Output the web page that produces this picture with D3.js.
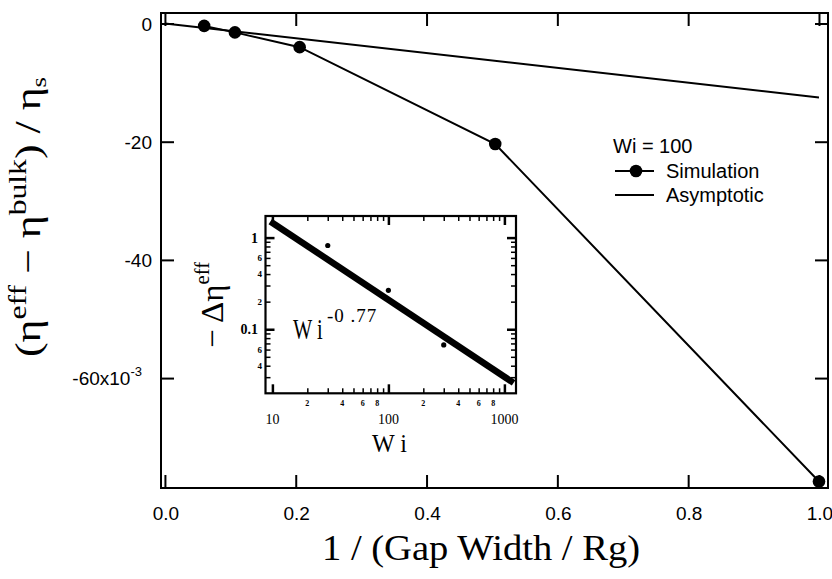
<!DOCTYPE html>
<html><head><meta charset="utf-8">
<script src="https://cdn.jsdelivr.net/npm/d3@7"></script>
<style>body{margin:0;background:#fff}svg{display:block}</style>
</head><body>
<svg id="c" width="832" height="579"></svg>
<script>
// ---- main chart data (y in units of 1e-3) ----
const gapInv = [0.06, 0.107, 0.206, 0.505, 1.0];
const simulation = [-0.4, -1.5, -4.0, -20.4, -77.5];
const asymX = [0, 1.0];
const asymY = [0, -12.5];
const xTicks = [0, 0.2, 0.4, 0.6, 0.8, 1.0];
const xTickLabels = ["0.0", "0.2", "0.4", "0.6", "0.8", "1.0"];
const yTicks = [0, -20, -40, -60];
const yTickLabels = ["0", "-20", "-40", "-60x10"];
const legendTitle = "Wi = 100";
const seriesNames = ["Simulation", "Asymptotic"];
// ---- inset data ----
const insetWi = [30, 100, 300];
const insetDEta = [0.82, 0.266, 0.0675];
const fitWi = [9.6, 1200];
const fitDEta = [1.5, 0.026];
const insetXMajor = [10, 100, 1000];
const insetXMinorLabels = [[20,"2"],[40,"4"],[60,"6"],[80,"8"],[200,"2"],[400,"4"],[600,"6"],[800,"8"]];
const insetYLabels = [[1,"1"],[0.6,"6"],[0.4,"4"],[0.2,"2"],[0.1,"0.1"],[0.06,"6"],[0.04,"4"]];

const svg = d3.select("#c");
const sans = "'Liberation Sans', Arial, Helvetica, sans-serif";
const serif = "'Liberation Serif', 'Times New Roman', serif";

// main scales
const L = 161, R = 828, T = 13, B = 488;
const x = d3.scaleLinear().domain([-0.006, 1.0138]).range([L, R]);
const y = d3.scaleLinear().domain([1.78, -78.6]).range([T, B]);

const g = svg.append("g");
g.append("rect").attr("x", L).attr("y", T).attr("width", R - L).attr("height", B - T)
  .attr("fill", "none").attr("stroke", "#000").attr("stroke-width", 2);

const tickLen = 13;
function styleAxis(sel){ sel.select(".domain").remove(); sel.selectAll("line").attr("stroke","#000").attr("stroke-width",2); }
g.append("g").attr("transform", `translate(0,${B})`)
  .call(d3.axisTop(x).tickValues(xTicks).tickSize(tickLen).tickFormat(""))
  .call(styleAxis);
g.append("g").attr("transform", `translate(0,${T})`)
  .call(d3.axisBottom(x).tickValues(xTicks).tickSize(tickLen).tickFormat(""))
  .call(styleAxis);
g.append("g").attr("transform", `translate(${L},0)`)
  .call(d3.axisRight(y).tickValues(yTicks).tickSize(tickLen).tickFormat(""))
  .call(styleAxis);
g.append("g").attr("transform", `translate(${R},0)`)
  .call(d3.axisLeft(y).tickValues(yTicks).tickSize(tickLen).tickFormat(""))
  .call(styleAxis);

g.selectAll(".xl").data(xTicks).join("text")
  .attr("x", d => x(d) + 1).attr("y", 520).attr("text-anchor", "middle")
  .attr("font-family", sans).attr("font-size", 19).text((d, i) => xTickLabels[i]);
yTicks.forEach((v, i) => {
  const t = g.append("text").attr("y", y(v) + 7).attr("font-family", sans).attr("font-size", 19)
    .attr("text-anchor", "end");
  if (i === yTicks.length - 1) {
    t.attr("x", 142);
    t.append("tspan").text(yTickLabels[i]);
    t.append("tspan").attr("dy", -9).attr("font-size", 13).text("-3");
  } else {
    t.attr("x", 152).text(yTickLabels[i]);
  }
});

const line = d3.line().x(d => x(d[0])).y(d => y(d[1]));
g.append("path").datum(asymX.map((d, i) => [d, asymY[i]]))
  .attr("d", line).attr("fill", "none").attr("stroke", "#000").attr("stroke-width", 2);
const sim = gapInv.map((d, i) => [d, simulation[i]]);
g.append("path").datum(sim).attr("d", line).attr("fill", "none").attr("stroke", "#000").attr("stroke-width", 2);
g.selectAll(".pt").data(sim).join("circle")
  .attr("cx", d => x(d[0])).attr("cy", d => y(d[1])).attr("r", 6.3).attr("fill", "#000");

// legend
g.append("text").attr("x", 613).attr("y", 153).attr("font-family", sans).attr("font-size", 20).text(legendTitle);
g.append("line").attr("x1", 615).attr("x2", 654).attr("y1", 171).attr("y2", 171).attr("stroke", "#000").attr("stroke-width", 2);
g.append("circle").attr("cx", 636).attr("cy", 171).attr("r", 6.3).attr("fill", "#000");
g.append("text").attr("x", 666).attr("y", 178).attr("font-family", sans).attr("font-size", 20).text(seriesNames[0]);
g.append("line").attr("x1", 615).attr("x2", 654).attr("y1", 195).attr("y2", 195).attr("stroke", "#000").attr("stroke-width", 2);
g.append("text").attr("x", 666).attr("y", 202).attr("font-family", sans).attr("font-size", 20).text(seriesNames[1]);

// axis titles
g.append("text").attr("x", 322).attr("y", 560)
  .attr("font-family", serif).attr("font-size", 36)
  .attr("textLength", 318).attr("lengthAdjust", "spacingAndGlyphs").text("1 / (Gap Width / Rg)");
const yt = g.append("text").attr("transform", "translate(40,357) rotate(-90)")
  .attr("font-family", serif).attr("font-size", 36)
  .attr("textLength", 280).attr("lengthAdjust", "spacingAndGlyphs");
yt.append("tspan").text("(η");
yt.append("tspan").attr("dy", -14).attr("font-size", 26).text("eff");
yt.append("tspan").attr("dy", 14).text(" − η");
yt.append("tspan").attr("dy", -14).attr("font-size", 26).text("bulk");
yt.append("tspan").attr("dy", 14).text(") / η");
yt.append("tspan").attr("dy", 6).attr("font-size", 22).text("s");

// ---- inset ----
const iL = 265.5, iR = 516, iT = 216, iB = 393.3;
const ix = d3.scaleLog().domain([8.72, 1259]).range([iL, iR]);
const iy = d3.scaleLog().domain([0.02, 1.72]).range([iB, iT]);
const ins = svg.append("g");
ins.append("rect").attr("x", iL).attr("y", iT).attr("width", iR - iL).attr("height", iB - iT)
  .attr("fill", "#fff").attr("stroke", "#000").attr("stroke-width", 2.2);
const xMinor = [], yMinor = [];
[10, 100, 1000].forEach(dec => { for (let k = 1; k <= 9; k++) { const v = dec * k; if (v > 8.72 && v < 1259) xMinor.push(v); } });
[0.01, 0.1, 1].forEach(dec => { for (let k = 1; k <= 9; k++) { const v = dec * k; if (v > 0.02 && v < 1.72) yMinor.push(v); } });
function styleI(w){ return sel => { sel.select(".domain").remove(); sel.selectAll("line").attr("stroke","#000").attr("stroke-width", w); }; }
const isMaj = v => Math.abs(Math.log10(v) - Math.round(Math.log10(v))) < 1e-9;
ins.append("g").attr("transform", `translate(0,${iB})`).call(d3.axisTop(ix).tickValues(xMinor.filter(v=>!isMaj(v))).tickSize(5).tickFormat("")).call(styleI(1.5));
ins.append("g").attr("transform", `translate(0,${iB})`).call(d3.axisTop(ix).tickValues(insetXMajor.filter(v=>v<1259)).tickSize(9).tickFormat("")).call(styleI(2.5));
ins.append("g").attr("transform", `translate(0,${iT})`).call(d3.axisBottom(ix).tickValues(xMinor.filter(v=>!isMaj(v))).tickSize(5).tickFormat("")).call(styleI(1.5));
ins.append("g").attr("transform", `translate(0,${iT})`).call(d3.axisBottom(ix).tickValues(insetXMajor).tickSize(9).tickFormat("")).call(styleI(2.5));
ins.append("g").attr("transform", `translate(${iL},0)`).call(d3.axisRight(iy).tickValues(yMinor.filter(v=>!isMaj(v))).tickSize(5).tickFormat("")).call(styleI(1.5));
ins.append("g").attr("transform", `translate(${iL},0)`).call(d3.axisRight(iy).tickValues([0.1, 1]).tickSize(9).tickFormat("")).call(styleI(2.5));
ins.append("g").attr("transform", `translate(${iR},0)`).call(d3.axisLeft(iy).tickValues(yMinor.filter(v=>!isMaj(v))).tickSize(5).tickFormat("")).call(styleI(1.5));
ins.append("g").attr("transform", `translate(${iR},0)`).call(d3.axisLeft(iy).tickValues([0.1, 1]).tickSize(9).tickFormat("")).call(styleI(2.5));

insetXMajor.forEach(v => ins.append("text").attr("x", ix(v)).attr("y", 424).attr("text-anchor", "middle")
  .attr("font-family", serif).attr("font-size", 14).text(String(v)));
insetXMinorLabels.forEach(([v, s]) => ins.append("text").attr("x", ix(v)).attr("y", 406).attr("text-anchor", "middle")
  .attr("font-family", serif).attr("font-weight", "bold").attr("font-size", 8).text(s));
insetYLabels.forEach(([v, s]) => ins.append("text").attr("x", s === "0.1" || s === "1" ? 258 : 262).attr("y", iy(v) + (s.length > 1 || s === "1" ? 5 : 3))
  .attr("text-anchor", "end").attr("font-family", serif).attr("font-weight", "bold")
  .attr("font-size", s === "0.1" || s === "1" ? 14 : 9).text(s));
ins.append("text").attr("x", 372).attr("y", 452)
  .attr("font-family", serif).attr("font-size", 26)
  .attr("textLength", 35).attr("lengthAdjust", "spacingAndGlyphs").text("W i");
const it = ins.append("text").attr("transform", "translate(223,348) rotate(-90)")
  .attr("font-family", serif).attr("font-size", 32)
  .attr("textLength", 86).attr("lengthAdjust", "spacingAndGlyphs");
it.append("tspan").text("− Δη");
it.append("tspan").attr("dy", -14).attr("font-size", 20).text("eff");

ins.append("clipPath").attr("id", "ic").append("rect").attr("x", iL).attr("y", iT).attr("width", iR - iL).attr("height", iB - iT);
const iline = d3.line().x(d => ix(d[0])).y(d => iy(d[1]));
ins.append("path").datum(fitWi.map((d, i) => [d, fitDEta[i]])).attr("clip-path", "url(#ic)")
  .attr("d", iline).attr("fill", "none").attr("stroke", "#000").attr("stroke-width", 6.5);
ins.selectAll(".ip").data(insetWi.map((d, i) => [d, insetDEta[i]])).join("circle")
  .attr("cx", d => ix(d[0])).attr("cy", d => iy(d[1])).attr("r", 2.6).attr("fill", "#000");
ins.append("g").attr("transform", "translate(293,339) scale(0.68,1)")
  .append("text").attr("font-family", serif).attr("font-size", 30).text("W i");
ins.append("text").attr("x", 327).attr("y", 322).attr("font-family", serif).attr("font-size", 19)
  .attr("letter-spacing", 1).text("-0 .77");
</script>
</body></html>
